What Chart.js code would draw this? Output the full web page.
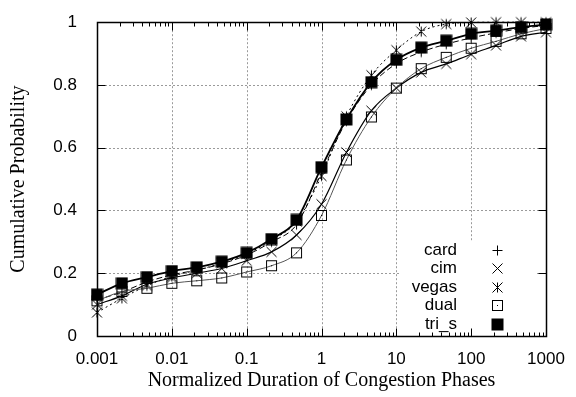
<!DOCTYPE html>
<html>
<head>
<meta charset="utf-8">
<script src="https://cdn.jsdelivr.net/npm/chart.js@4.4.1/dist/chart.umd.min.js"></script>
<style>
  html, body { margin: 0; padding: 0; background: #fff; }
  #wrap { width: 576px; height: 397px; }
</style>
</head>
<body>
<div id="wrap"><canvas id="cdf" width="576" height="397"></canvas></div>
<script>
// Normalized phase durations at which each CDF is sampled (1/3 decade apart)
const durations = [0.001, 0.00215, 0.00464, 0.01, 0.0215, 0.0464, 0.1, 0.215, 0.464,
                   1, 2.15, 4.64, 10, 21.5, 46.4, 100, 215, 464, 1000];

// Cumulative probability per congestion-control variant
const card  = [0.115, 0.140, 0.172, 0.195, 0.210, 0.230, 0.258, 0.300, 0.355,
               0.520, 0.685, 0.800, 0.868, 0.905, 0.930, 0.950, 0.966, 0.980, 0.990];
const cim   = [0.100, 0.128, 0.165, 0.185, 0.200, 0.215, 0.240, 0.268, 0.322,
               0.420, 0.585, 0.718, 0.790, 0.840, 0.867, 0.898, 0.926, 0.955, 0.968];
const vegas = [0.075, 0.120, 0.160, 0.190, 0.210, 0.232, 0.262, 0.305, 0.365,
               0.510, 0.700, 0.831, 0.911, 0.970, 0.994, 0.999, 1.000, 1.000, 1.000];
const dual  = [0.112, 0.142, 0.152, 0.168, 0.176, 0.185, 0.204, 0.224, 0.265,
               0.384, 0.561, 0.698, 0.790, 0.852, 0.888, 0.917, 0.939, 0.963, 0.980];
const triS  = [0.132, 0.168, 0.188, 0.207, 0.219, 0.237, 0.265, 0.309, 0.370,
               0.538, 0.690, 0.809, 0.880, 0.919, 0.941, 0.963, 0.973, 0.984, 0.993];

// Axis tick values
const xTickValues = [0.001, 0.01, 0.1, 1, 10, 100, 1000];
const yTickValues = [0, 0.2, 0.4, 0.6, 0.8, 1];

const SANS = "'Liberation Sans', Arial, sans-serif";
const SERIF = "'Liberation Serif', 'Times New Roman', serif";

// Small canvases used as point glyphs (plus, cross, asterisk, open/filled box)
function glyph(kind) {
  const n = 13, c = document.createElement('canvas');
  c.width = n; c.height = n;
  const g = c.getContext('2d');
  g.strokeStyle = '#000'; g.fillStyle = '#000'; g.lineWidth = 1;
  const m = n / 2, r = 5;
  g.beginPath();
  if (kind === 'plus' || kind === 'star') {
    g.moveTo(m, m - r); g.lineTo(m, m + r);
  }
  if (kind === 'plus') {
    g.moveTo(m - r, m); g.lineTo(m + r, m);
  }
  if (kind === 'cross' || kind === 'star') {
    g.moveTo(m - r, m - r); g.lineTo(m + r, m + r);
    g.moveTo(m + r, m - r); g.lineTo(m - r, m + r);
  }
  g.stroke();
  if (kind === 'box') {
    g.strokeRect(1.5, 1.5, 10, 10);
    g.fillRect(6, 6, 1, 1);
  }
  if (kind === 'fbox') {
    g.fillRect(0.5, 0.5, 12, 12);
  }
  return c;
}

const glyphs = {
  card: glyph('plus'), cim: glyph('cross'), vegas: glyph('star'),
  dual: glyph('box'), tri_s: glyph('fbox')
};

function series(label, values, style) {
  return Object.assign({
    label,
    data: durations.map((x, i) => ({ x, y: values[i] })),
    showLine: true,
    borderColor: '#000',
    backgroundColor: '#000',
    pointStyle: glyphs[label],
    pointRadius: 5,
    pointHoverRadius: 5,
    cubicInterpolationMode: 'monotone',
    clip: false
  }, style);
}

function tickLabel(v) {
  return String(v);
}

// Dotted grid, white key panel, box frame with inward ticks, and the key
const frame = {
  id: 'frame',
  beforeDatasetsDraw(chart) {
    const { ctx, chartArea: a, scales: { x, y } } = chart;
    ctx.save();
    ctx.strokeStyle = '#9a9a9a';
    ctx.lineWidth = 1;
    ctx.setLineDash([2, 2]);
    ctx.beginPath();
    xTickValues.forEach(v => {
      const px = Math.round(x.getPixelForValue(v)) + 0.5;
      ctx.moveTo(px, a.top); ctx.lineTo(px, a.bottom);
    });
    yTickValues.forEach(v => {
      const py = Math.round(y.getPixelForValue(v)) + 0.5;
      ctx.moveTo(a.left, py); ctx.lineTo(a.right, py);
    });
    ctx.stroke();
    ctx.setLineDash([]);
    // key panel background
    ctx.fillStyle = '#fff';
    ctx.fillRect(a.right - 145, a.bottom - 95, 134, 95);
    ctx.restore();
  },
  afterDatasetsDraw(chart) {
    const { ctx, chartArea: a, scales: { x, y } } = chart;
    ctx.save();
    ctx.strokeStyle = '#000';
    ctx.lineWidth = 1;
    const L = Math.round(a.left) + 0.5, R = Math.round(a.right) + 0.5;
    const T = Math.round(a.top) + 0.5, B = Math.round(a.bottom) + 0.5;
    ctx.beginPath();
    // major x ticks
    xTickValues.forEach(v => {
      const px = Math.round(x.getPixelForValue(v)) + 0.5;
      ctx.moveTo(px, B); ctx.lineTo(px, B - 8);
      ctx.moveTo(px, T); ctx.lineTo(px, T + 8);
    });
    // minor x ticks at 2..9 of each decade
    for (let d = Math.log10(x.min); d < Math.log10(x.max) - 1e-9; d++) {
      for (let k = 2; k <= 9; k++) {
        const px = Math.round(x.getPixelForValue(k * Math.pow(10, d))) + 0.5;
        ctx.moveTo(px, B); ctx.lineTo(px, B - 4);
        ctx.moveTo(px, T); ctx.lineTo(px, T + 4);
      }
    }
    // y ticks on both sides
    yTickValues.forEach(v => {
      const py = Math.round(y.getPixelForValue(v)) + 0.5;
      ctx.moveTo(L, py); ctx.lineTo(L + 8, py);
      ctx.moveTo(R, py); ctx.lineTo(R - 8, py);
    });
    ctx.stroke();
    ctx.lineWidth = 1.5;
    ctx.strokeRect(L, T, R - L, B - T);

    // key: right-aligned names with their glyphs
    ctx.font = '17px ' + SANS;
    ctx.fillStyle = '#000';
    ctx.textAlign = 'right';
    ctx.textBaseline = 'middle';
    chart.data.datasets.forEach((ds, i) => {
      const ty = a.bottom - 86 + i * 18.5;
      ctx.fillText(ds.label, a.right - 89, ty);
      const img = ds.pointStyle;
      ctx.drawImage(img, Math.round(a.right - 49 - img.width / 2), Math.round(ty - img.height / 2));
    });
    ctx.restore();
  }
};

new Chart(document.getElementById('cdf'), {
  type: 'scatter',
  data: {
    datasets: [
      series('card',  card,  { borderWidth: 1, borderDash: [6, 3], order: 4 }),
      series('cim',   cim,   { borderWidth: 1.2, order: 3 }),
      series('vegas', vegas, { borderWidth: 1, borderDash: [2, 3], order: 2 }),
      series('dual',  dual,  { borderWidth: 1, borderColor: '#555', order: 1 }),
      series('tri_s', triS,  { borderWidth: 1.8, order: 0 })
    ]
  },
  options: {
    responsive: false,
    animation: false,
    devicePixelRatio: 1,
    layout: { padding: { top: 12, right: 30, left: 0, bottom: 0 } },
    plugins: { legend: { display: false }, tooltip: { enabled: false } },
    events: [],
    scales: {
      x: {
        type: 'logarithmic',
        position: 'bottom',
        min: 0.001,
        max: 1000,
        afterBuildTicks: s => { s.ticks = xTickValues.map(v => ({ value: v })); },
        afterFit: s => { s.height = 61; },
        grid: { display: false },
        border: { display: false },
        ticks: {
          callback: tickLabel,
          autoSkip: false,
          maxRotation: 0,
          padding: 5,
          color: '#000',
          font: { family: SANS, size: 17 }
        },
        title: {
          display: true,
          text: 'Normalized Duration of Congestion Phases',
          color: '#000',
          font: { family: SERIF, size: 20, lineHeight: 1 },
          padding: { top: 0, bottom: 6 }
        }
      },
      y: {
        min: 0,
        max: 1,
        afterBuildTicks: s => { s.ticks = yTickValues.map(v => ({ value: v })); },
        afterFit: s => { s.width = 97; },
        grid: { display: false },
        border: { display: false },
        ticks: {
          callback: tickLabel,
          padding: 12,
          color: '#000',
          font: { family: SANS, size: 17 }
        },
        title: {
          display: true,
          text: 'Cumulative Probability',
          color: '#000',
          font: { family: SERIF, size: 20, lineHeight: 1 },
          padding: { top: 9, bottom: 0 }
        }
      }
    }
  },
  plugins: [frame]
});
</script>
</body>
</html>
